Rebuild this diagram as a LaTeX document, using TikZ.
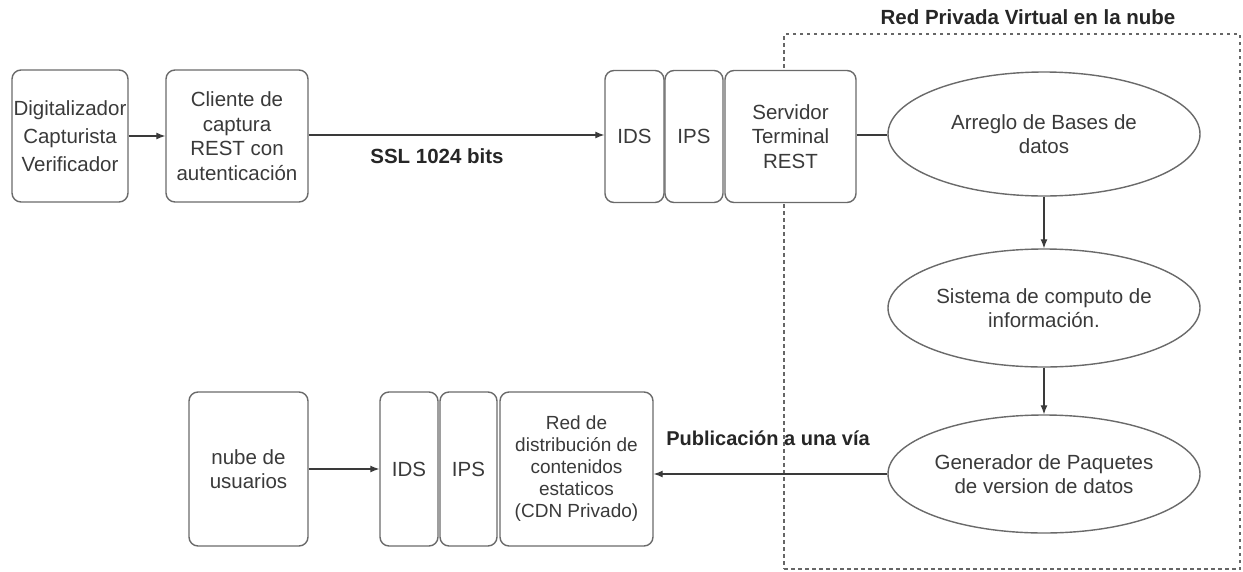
\documentclass[tikz,border=0pt]{standalone}
\usepackage{fontspec}
\setmainfont{Liberation Sans}
\usetikzlibrary{arrows.meta,shapes.geometric}

\definecolor{inkgray}{HTML}{3A3A3A}
\definecolor{edgegray}{HTML}{6A6A6A}

\tikzset{
  base/.style={draw=edgegray, fill=white, line width=1.4pt, text=inkgray, align=center,
    inner sep=0pt, font=\fontsize{20.5}{24.5}\selectfont},
  panel/.style={base, rounded corners=9pt},
  oval/.style={base, ellipse, minimum width=312pt},
  link/.style={draw=inkgray, line width=1.2pt},
  flow/.style={link, -{Latex[length=9pt,width=7pt]}},
  caption/.style={text=black!85, font=\bfseries\fontsize{20.5}{24.5}\selectfont},
  zone/.style={draw=black!60, line width=1.4pt, dash pattern=on 3.5pt off 3.5pt}
}

\begin{document}
\begin{tikzpicture}[x=1pt,y=-1pt]
\useasboundingbox (0,0) rectangle (1243,571);

% cloud private network region
\node[zone, minimum width=456pt, minimum height=535pt] (vpn) at (1012,301.5) {};
\node[caption] (vpntitle) at (1028,17) {Red Privada Virtual en la nube};

% top row: capture side
\node[panel, minimum width=116pt, minimum height=132pt,
      font=\fontsize{20.5}{28}\selectfont] (roles) at (70,136)
  {Digitalizador\\Capturista\\Verificador};
\node[panel, minimum width=142pt, minimum height=132pt] (client) at (237,136)
  {Cliente de\\captura\\REST con\\autenticación};

\node[panel, minimum width=59pt, minimum height=132pt] (ids1) at (634.5,136.5) {IDS};
\node[panel, minimum width=58pt, minimum height=132pt] (ips1) at (694,136.5) {IPS};
\node[panel, minimum width=131pt, minimum height=132pt] (server) at (790.5,136.5)
  {Servidor\\Terminal\\REST};

% processing chain inside the cloud
\node[oval, minimum height=124pt] (dbs) at (1044,134) {Arreglo de Bases de\\datos};
\node[oval, minimum height=118pt] (compute) at (1044,308) {Sistema de computo de\\información.};
\node[oval, minimum height=118pt] (packer) at (1044,474) {Generador de Paquetes\\de version de datos};

% bottom row: distribution side
\node[panel, minimum width=119pt, minimum height=154pt] (users) at (248.5,469)
  {nube de\\usuarios};
\node[panel, minimum width=58pt, minimum height=154pt] (ids2) at (409,469) {IDS};
\node[panel, minimum width=57pt, minimum height=154pt] (ips2) at (468.5,469) {IPS};
\node[panel, minimum width=153pt, minimum height=154pt,
      font=\fontsize{19}{22}\selectfont] (cdn) at (576.5,469)
  {Red de\\distribución de\\contenidos\\estaticos\\(CDN Privado)};

% connectors
\draw[flow] (roles.east) -- (client.west);
\draw[flow] (client.east |- 0,135) -- (ids1.west |- 0,135);
\node[caption] (ssl) at (437,156) {SSL 1024 bits};
\draw[link] (server.east |- 0,135) -- (dbs.west |- 0,135);
\draw[flow] (dbs.south) -- (compute.north);
\draw[flow] (compute.south) -- (packer.north);
\draw[flow] (packer.west) -- (cdn.east |- packer.west);
\node[caption, font=\bfseries\fontsize{20}{24}\selectfont] (oneway) at (768,438)
  {Publicación a una vía};
\draw[flow] (users.east) -- (ids2.west);
\end{tikzpicture}
\end{document}
